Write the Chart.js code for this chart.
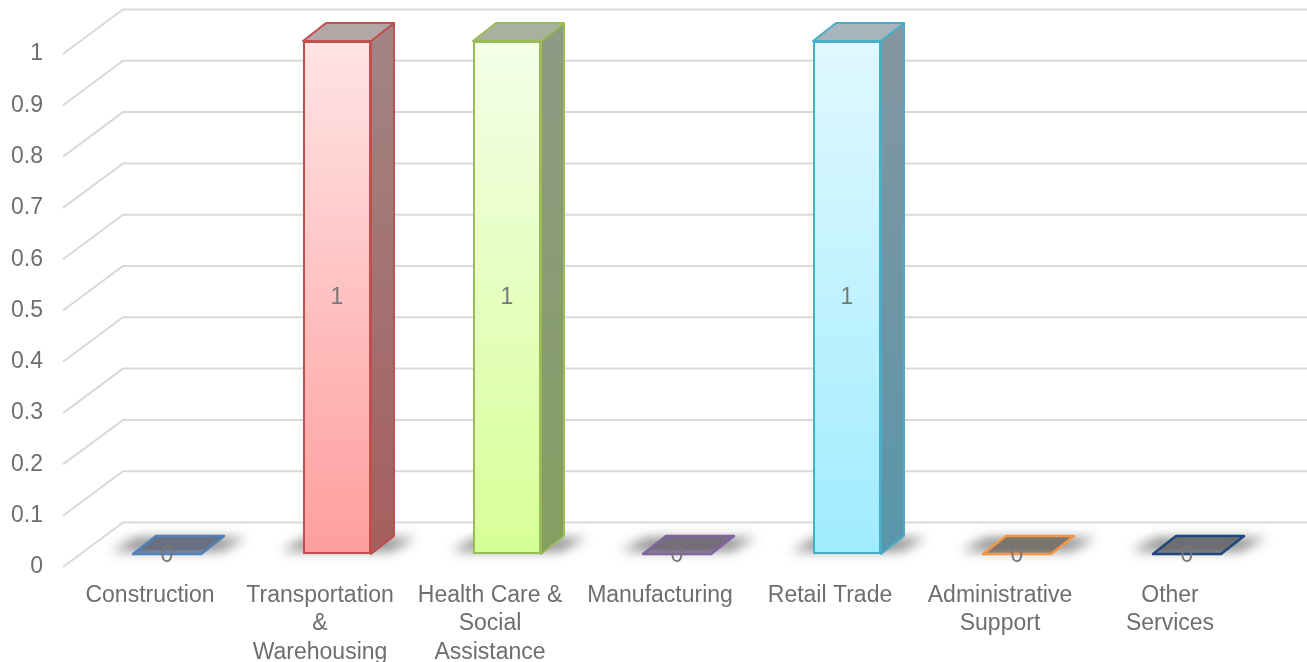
<!DOCTYPE html>
<html>
<head>
<meta charset="utf-8">
<title>Industries</title>
<script src="https://cdn.jsdelivr.net/npm/chart.js@4.4.0/dist/chart.umd.min.js"></script>
<style>
  html, body { margin: 0; padding: 0; background: #fff; }
  #wrap { width: 1307px; height: 662px; position: relative; }
</style>
</head>
<body>
<div id="wrap"><canvas id="bar"></canvas></div>
<script>
// Industry categories and their counts
const industries = [
  ['Construction'],
  ['Transportation', '&', 'Warehousing'],
  ['Health Care &', 'Social', 'Assistance'],
  ['Manufacturing'],
  ['Retail Trade'],
  ['Administrative', 'Support'],
  ['Other', 'Services']
];
const counts = [0, 1, 1, 0, 1, 0, 0];
const yTicks = [0, 0.1, 0.2, 0.3, 0.4, 0.5, 0.6, 0.7, 0.8, 0.9, 1];

// Colours for each bar: outline, front gradient, side gradient, top face, flat (zero) top
const palette = [
  { line: '#4f81bd', flat: ['rgb(104,112,128)', 'rgb(132,146,170)'] },
  { line: '#c0504d', front: ['rgb(255,228,228)', 'rgb(255,158,158)'], side: ['rgb(162,132,132)', 'rgb(166,94,94)'], top: 'rgb(178,166,166)' },
  { line: '#9bbb59', front: ['rgb(244,255,232)', 'rgb(214,255,150)'], side: ['rgb(142,154,132)', 'rgb(132,158,98)'], top: 'rgb(168,176,160)' },
  { line: '#8064a2', flat: ['rgb(116,110,124)', 'rgb(146,136,160)'] },
  { line: '#4bacc6', front: ['rgb(224,248,255)', 'rgb(160,236,255)'], side: ['rgb(132,150,160)', 'rgb(88,150,170)'], top: 'rgb(168,180,188)' },
  { line: '#f79646', flat: ['rgb(122,116,110)', 'rgb(152,140,130)'] },
  { line: '#1f497d', flat: ['rgb(110,110,114)', 'rgb(132,134,140)'] }
];

const textColor = '#6e6e6e';
const labelFont = { family: "'Liberation Sans', Arial, sans-serif", size: 23, lineHeight: 1.25 };

// fake 3D: bar depth, back wall offset and floor edge
const DX = 23, DY = -18;
const WALL_X = 123, WALL_DY = -31.5;
const FLOOR_X = 63, FLOOR_DY = 13;

function poly(ctx, pts) {
  ctx.beginPath();
  ctx.moveTo(pts[0][0], pts[0][1]);
  for (let i = 1; i < pts.length; i++) ctx.lineTo(pts[i][0], pts[i][1]);
  ctx.closePath();
}

function frontFill(context) {
  const p = palette[context.dataIndex];
  const area = context.chart.chartArea;
  if (!p.front) return 'rgba(0,0,0,0)';
  if (!area) return p.front[1];
  const g = context.chart.ctx.createLinearGradient(0, area.top, 0, area.bottom);
  g.addColorStop(0, p.front[0]);
  g.addColorStop(1, p.front[1]);
  return g;
}

const cube = {
  id: 'cube',
  beforeDatasetsDraw(chart) {
    const { ctx, scales: { y } } = chart;
    ctx.save();
    // back wall grid lines with their floor diagonals
    ctx.strokeStyle = '#d9d9d9';
    ctx.lineWidth = 2;
    y.ticks.forEach(t => {
      const py = y.getPixelForValue(t.value);
      ctx.beginPath();
      ctx.moveTo(FLOOR_X, py + FLOOR_DY);
      ctx.lineTo(WALL_X, py + WALL_DY);
      ctx.lineTo(chart.width, py + WALL_DY);
      ctx.stroke();
    });
    // soft shadow around each footprint
    ctx.filter = 'blur(6px)';
    ctx.fillStyle = 'rgba(40,40,40,0.55)';
    chart.getDatasetMeta(0).data.forEach(bar => {
      const l = bar.x - bar.width / 2, r = bar.x + bar.width / 2, b = bar.base;
      poly(ctx, [[l - 22, b - 3], [r + 20, b - 3], [r + DX + 22, b + DY + 2], [l + DX - 20, b + DY + 2]]);
      ctx.fill();
    });
    ctx.restore();
  },
  afterDatasetsDraw(chart) {
    const { ctx } = chart;
    ctx.save();
    ctx.lineJoin = 'round';
    chart.getDatasetMeta(0).data.forEach((bar, i) => {
      const p = palette[i];
      const l = bar.x - bar.width / 2, r = bar.x + bar.width / 2;
      const t = bar.y, b = bar.base;
      ctx.strokeStyle = p.line;
      if (counts[i] > 0) {
        ctx.lineWidth = 2;
        // side face
        const sg = ctx.createLinearGradient(0, t, 0, b);
        sg.addColorStop(0, p.side[0]);
        sg.addColorStop(1, p.side[1]);
        poly(ctx, [[r, t], [r + DX, t + DY], [r + DX, b + DY], [r, b]]);
        ctx.fillStyle = sg;
        ctx.fill();
        ctx.stroke();
        // top face
        poly(ctx, [[l, t], [l + DX, t + DY], [r + DX, t + DY], [r, t]]);
        ctx.fillStyle = p.top;
        ctx.fill();
        ctx.stroke();
      } else {
        // zero value: only the flat lid is visible
        ctx.lineWidth = 2.5;
        const fg = ctx.createLinearGradient(0, b + DY, 0, b);
        fg.addColorStop(0, p.flat[0]);
        fg.addColorStop(0.7, p.flat[0]);
        fg.addColorStop(1, p.flat[1]);
        poly(ctx, [[l, b], [l + DX, b + DY], [r + DX, b + DY], [r, b]]);
        ctx.fillStyle = fg;
        ctx.fill();
        ctx.stroke();
      }
    });
    // value labels
    ctx.fillStyle = '#777777';
    ctx.font = "23px 'Liberation Sans', Arial, sans-serif";
    ctx.textAlign = 'center';
    ctx.textBaseline = 'middle';
    chart.getDatasetMeta(0).data.forEach((bar, i) => {
      const yPos = counts[i] > 0 ? (bar.y + bar.base) / 2 : bar.base + 2;
      ctx.fillText(String(counts[i]), bar.x, yPos);
    });
    ctx.restore();
  }
};

new Chart(document.getElementById('bar'), {
  type: 'bar',
  data: {
    labels: industries,
    datasets: [{
      data: counts,
      backgroundColor: frontFill,
      borderColor: palette.map(p => p.line),
      borderWidth: c => (counts[c.dataIndex] > 0 ? 2 : 0),
      borderSkipped: false,
      barPercentage: 0.4,
      categoryPercentage: 1
    }]
  },
  options: {
    responsive: true,
    maintainAspectRatio: false,
    animation: false,
    layout: { padding: { top: 41, right: 35, left: 0, bottom: 0 } },
    plugins: {
      legend: { display: false },
      tooltip: { enabled: false }
    },
    scales: {
      x: {
        grid: { display: false, drawTicks: false },
        border: { display: false },
        ticks: { color: textColor, font: labelFont, padding: 27, labelOffset: -17, maxRotation: 0, autoSkip: false },
        afterFit: s => { s.height = 108; }
      },
      y: {
        min: 0,
        max: 1,
        afterBuildTicks: s => { s.ticks = yTicks.map(v => ({ value: v })); },
        grid: { display: false, drawTicks: false },
        border: { display: false },
        ticks: { color: textColor, font: labelFont, padding: 39, labelOffset: 13, callback: v => String(v) },
        afterFit: s => {
          s.width = 82;
          // the large label gap should not push the plot down
          s.paddingTop = 0;
          s.paddingBottom = 0;
        }
      }
    }
  },
  plugins: [cube]
});
</script>
</body>
</html>
